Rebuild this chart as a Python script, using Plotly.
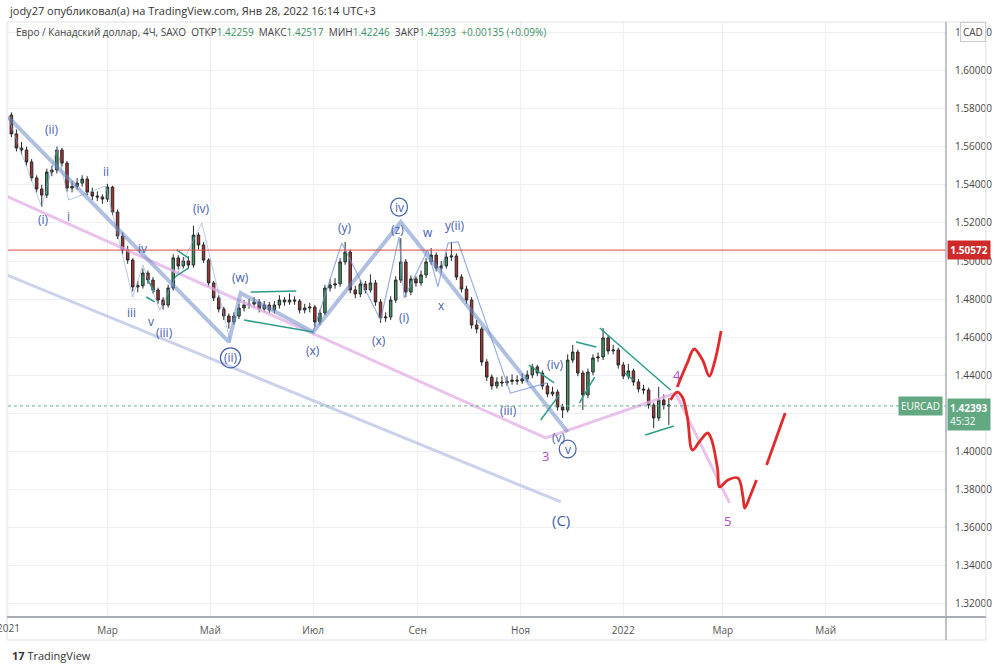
import pandas as pd
import plotly.graph_objects as go

# ---------------- data ----------------
start_date = "2020-12-31"   # candles every 3 calendar days
first_open = 1.5745
closes = [1.5766, 1.5667, 1.5593, 1.5583, 1.5520, 1.5436, 1.5378, 1.5346, 1.5467, 1.5478,
          1.5583, 1.5514, 1.5383, 1.5392, 1.5409, 1.5430, 1.5362, 1.5341, 1.5336, 1.5325,
          1.5388, 1.5257, 1.5131, 1.5058, 1.5005, 1.4864, 1.4870, 1.4937, 1.4900, 1.4848,
          1.4795, 1.4769, 1.4858, 1.5016, 1.4974, 1.5000, 1.4979, 1.5136, 1.5084, 1.5005,
          1.4885, 1.4806, 1.4748, 1.4711, 1.4680, 1.4711, 1.4753, 1.4769, 1.4774, 1.4785,
          1.4748, 1.4769, 1.4743, 1.4769, 1.4795, 1.4785, 1.4795, 1.4790, 1.4743, 1.4753,
          1.4758, 1.4680, 1.4727, 1.4858, 1.4874, 1.4880, 1.4995, 1.5047, 1.4848, 1.4827,
          1.4879, 1.4848, 1.4885, 1.4785, 1.4701, 1.4706, 1.4795, 1.4900, 1.4995, 1.4837,
          1.4906, 1.4885, 1.4927, 1.4995, 1.5031, 1.4963, 1.4974, 1.5021, 1.5026, 1.4916,
          1.4853, 1.4795, 1.4664, 1.4643, 1.4470, 1.4391, 1.4344, 1.4365, 1.4360, 1.4368,
          1.4375, 1.4370, 1.4381, 1.4402, 1.4444, 1.4412, 1.4344, 1.4302, 1.4312, 1.4234,
          1.4218, 1.4480, 1.4522, 1.4412, 1.4297, 1.4417, 1.4491, 1.4496, 1.4596, 1.4528,
          1.4533, 1.4454, 1.4396, 1.4423, 1.4365, 1.4328, 1.4323, 1.4244, 1.4176, 1.4270,
          1.4244, 1.4239]
highs = [1.5790, 1.5780, 1.5690, 1.5625, 1.5600, 1.5535, 1.5450, 1.5400, 1.5485, 1.5500,
         1.5600, 1.5595, 1.5525, 1.5420, 1.5435, 1.5450, 1.5445, 1.5385, 1.5365, 1.5350,
         1.5405, 1.5395, 1.5270, 1.5150, 1.5080, 1.5015, 1.4895, 1.4960, 1.4950, 1.4915,
         1.4860, 1.4810, 1.4875, 1.5035, 1.5030, 1.5020, 1.5025, 1.5185, 1.5150, 1.5100,
         1.5015, 1.4895, 1.4820, 1.4760, 1.4725, 1.4730, 1.4775, 1.4795, 1.4800, 1.4810,
         1.4800, 1.4790, 1.4785, 1.4790, 1.4820, 1.4810, 1.4830, 1.4815, 1.4800, 1.4775,
         1.4780, 1.4770, 1.4745, 1.4875, 1.4905, 1.4910, 1.5015, 1.5100, 1.5060, 1.4870,
         1.4900, 1.4895, 1.4930, 1.4900, 1.4800, 1.4730, 1.4815, 1.4920, 1.5120, 1.5010,
         1.4925, 1.4920, 1.4950, 1.5015, 1.5068, 1.5045, 1.5000, 1.5045, 1.5100, 1.5040,
         1.4930, 1.4870, 1.4810, 1.4690, 1.4655, 1.4485, 1.4405, 1.4390, 1.4395, 1.4395,
         1.4405, 1.4400, 1.4410, 1.4425, 1.4460, 1.4455, 1.4425, 1.4360, 1.4340, 1.4325,
         1.4250, 1.4510, 1.4560, 1.4535, 1.4425, 1.4435, 1.4510, 1.4520, 1.4648, 1.4610,
         1.4560, 1.4545, 1.4470, 1.4460, 1.4435, 1.4380, 1.4350, 1.4335, 1.4255, 1.4339,
         1.4300, 1.4280]
lows = [1.5730, 1.5650, 1.5575, 1.5560, 1.5500, 1.5420, 1.5360, 1.5283, 1.5330, 1.5445,
        1.5460, 1.5495, 1.5365, 1.5360, 1.5375, 1.5390, 1.5345, 1.5320, 1.5315, 1.5300,
        1.5310, 1.5240, 1.5115, 1.5035, 1.4985, 1.4840, 1.4835, 1.4855, 1.4880, 1.4830,
        1.4775, 1.4745, 1.4755, 1.4845, 1.4955, 1.4960, 1.4960, 1.4965, 1.5060, 1.4990,
        1.4865, 1.4790, 1.4730, 1.4690, 1.4645, 1.4665, 1.4695, 1.4735, 1.4750, 1.4755,
        1.4730, 1.4730, 1.4725, 1.4725, 1.4750, 1.4765, 1.4770, 1.4770, 1.4725, 1.4725,
        1.4730, 1.4655, 1.4665, 1.4715, 1.4840, 1.4855, 1.4865, 1.4980, 1.4830, 1.4805,
        1.4810, 1.4830, 1.4835, 1.4765, 1.4675, 1.4680, 1.4690, 1.4780, 1.4885, 1.4810,
        1.4820, 1.4865, 1.4870, 1.4910, 1.4980, 1.4945, 1.4940, 1.4960, 1.5000, 1.4900,
        1.4835, 1.4775, 1.4645, 1.4620, 1.4450, 1.4370, 1.4325, 1.4330, 1.4340, 1.4345,
        1.4350, 1.4350, 1.4355, 1.4365, 1.4385, 1.4395, 1.4325, 1.4285, 1.4290, 1.4215,
        1.4176, 1.4205, 1.4465, 1.4395, 1.4218, 1.4280, 1.4400, 1.4470, 1.4480, 1.4510,
        1.4510, 1.4435, 1.4380, 1.4380, 1.4345, 1.4310, 1.4300, 1.4225, 1.4123, 1.4160,
        1.4220, 1.4140]

# price axis ticks and time axis ticks (1.42000 is hidden behind the last-price badge)
price_ticks = [1.32, 1.34, 1.36, 1.38, 1.40, 1.42, 1.44, 1.46, 1.48, 1.50, 1.52, 1.54, 1.56, 1.58, 1.60, 1.62]
price_tick_labels = ["1.32000", "1.34000", "1.36000", "1.38000", "1.40000", "", "1.44000", "1.46000",
                     "1.48000", "1.50000", "1.52000", "1.54000", "1.56000", "1.58000", "1.60000", "1.62000"]
time_tick_dates = ["2021-03-01", "2021-05-01", "2021-07-01", "2021-09-01",
                   "2021-11-01", "2022-01-01", "2022-03-01", "2022-05-01"]
time_tick_labels = ["Мар", "Май", "Июл", "Сен", "Ноя", "2022", "Мар", "Май"]
first_tick_date = "2021-01-01"
first_tick_label = "2021"

resistance_level = 1.50572
last_price = 1.42393

# drawings (date, price)
thick_dates = ["2021-01-01", "2021-05-12", "2021-05-19", "2021-07-01", "2021-08-22", "2021-11-29"]
thick_prices = [1.5756, 1.4575, 1.4832, 1.4627, 1.5205, 1.4102]

pink_dates = ["2020-12-27", "2021-11-16", "2022-02-01", "2022-03-05"]
pink_prices = [1.5357, 1.4071, 1.4307, 1.3730]

lav_dates = ["2020-12-27", "2021-11-25"]
lav_prices = [1.4942, 1.3735]

thinA_dates = ["2021-01-01", "2021-01-21", "2021-01-30", "2021-02-06", "2021-02-28", "2021-03-16",
               "2021-03-22", "2021-04-01", "2021-04-26", "2021-05-13"]
thinA_prices = [1.5756, 1.5283, 1.5593, 1.5320, 1.5394, 1.4811, 1.4979, 1.4743, 1.5199, 1.4570]
thinB_dates = ["2021-07-01", "2021-07-18", "2021-08-10", "2021-08-21", "2021-08-24", "2021-09-07",
               "2021-09-13", "2021-09-19", "2021-09-25", "2021-10-26", "2021-11-17"]
thinB_prices = [1.4627, 1.5094, 1.4690, 1.5126, 1.4806, 1.5058, 1.4864, 1.5094, 1.5100, 1.4307, 1.4360]

teal_segments = [
    (("2021-03-25", "2021-03-29"), (1.4900, 1.4837)),
    (("2021-03-24", "2021-03-29"), (1.4811, 1.4785)),
    (("2021-04-11", "2021-04-18"), (1.5058, 1.5016)),
    (("2021-04-10", "2021-04-18"), (1.4916, 1.4963)),
    (("2021-05-25", "2021-06-21"), (1.4837, 1.4843)),
    (("2021-05-21", "2021-07-01"), (1.4690, 1.4627)),
    (("2021-11-06", "2021-11-21"), (1.4454, 1.4360)),
    (("2021-11-13", "2021-11-24"), (1.4165, 1.4297)),
    (("2021-12-04", "2021-12-16"), (1.4575, 1.4549)),
    (("2021-12-06", "2021-12-15"), (1.4255, 1.4391)),
    (("2021-12-18", "2022-01-29"), (1.4648, 1.4323)),
    (("2022-01-14", "2022-01-31"), (1.4087, 1.4134)),
    (("2022-01-02", "2022-01-07"), (1.4412, 1.4375)),
]

red_up_dates = ["2022-02-02", "2022-02-08", "2022-02-12", "2022-02-17", "2022-02-21", "2022-02-24", "2022-02-28"]
red_up_prices = [1.4339, 1.4465, 1.4538, 1.4480, 1.4396, 1.4465, 1.4633]
red_dn_dates = ["2022-01-29", "2022-02-02", "2022-02-05", "2022-02-08", "2022-02-11", "2022-02-15",
                "2022-02-20", "2022-02-22", "2022-02-26", "2022-02-27", "2022-03-04", "2022-03-10",
                "2022-03-13", "2022-03-14", "2022-03-17", "2022-03-21"]
red_dn_prices = [1.4270, 1.4312, 1.4286, 1.4181, 1.4008, 1.4050, 1.4097, 1.4071, 1.3903, 1.3814,
                 1.3850, 1.3861, 1.3761, 1.3703, 1.3761, 1.3850]
red_rise_dates = ["2022-03-27", "2022-04-07"]
red_rise_prices = [1.3929, 1.4202]

wave_labels = [
    ("(i)", "2021-01-22", 1.5220), ("(ii)", "2021-01-27", 1.5688), ("i", "2021-02-06", 1.5231),
    ("ii", "2021-02-28", 1.5472), ("iv", "2021-03-22", 1.5068), ("iii", "2021-03-15", 1.4732),
    ("v", "2021-03-27", 1.4680), ("(iii)", "2021-04-04", 1.4627), ("(iv)", "2021-04-26", 1.5278),
    ("(w)", "2021-05-19", 1.4916), ("(ii)", "2021-05-13", 1.4491), ("(x)", "2021-07-01", 1.4528),
    ("(y)", "2021-07-20", 1.5178), ("(x)", "2021-08-09", 1.4585), ("iv", "2021-08-21", 1.5283),
    ("(z)", "2021-08-20", 1.5163), ("(i)", "2021-08-24", 1.4701), ("w", "2021-09-07", 1.5152),
    ("x", "2021-09-15", 1.4764), ("y(ii)", "2021-09-23", 1.5184), ("(iii)", "2021-10-25", 1.4213),
    ("(iv)", "2021-11-22", 1.4459), ("(v)", "2021-11-24", 1.4071), ("v", "2021-11-29", 1.4013),
]
purple_labels = [("3", "2021-11-16", 1.3976), ("4", "2022-02-02", 1.4402), ("5", "2022-03-04", 1.3635)]
big_label = ("(C)", "2021-11-25", 1.3640)
circles = [  # x0, x1, y0, y1
    ("2021-08-16", "2021-08-26", 1.5236, 1.5330),
    ("2021-11-24", "2021-12-04", 1.3966, 1.4060),
    ("2021-05-07", "2021-05-19", 1.4439, 1.4544),
]

# ---------------- figure ----------------
dates = pd.date_range(start_date, periods=len(closes), freq="3D")
opens = [first_open] + closes[:-1]

BLUE = "#4561ac"
PURPLE = "#b04cc8"
FONT = "Open Sans"

fig = go.Figure()

fig.add_trace(go.Scatter(x=lav_dates, y=lav_prices, mode="lines",
                         line=dict(color="rgba(175,185,225,0.65)", width=3), hoverinfo="skip"))
fig.add_trace(go.Scatter(x=pink_dates, y=pink_prices, mode="lines",
                         line=dict(color="rgba(225,175,228,0.75)", width=3), hoverinfo="skip"))

fig.add_trace(go.Candlestick(
    x=dates, open=opens, high=highs, low=lows, close=closes,
    increasing=dict(line=dict(color="#2a2a2a", width=1), fillcolor="#3d9a62"),
    decreasing=dict(line=dict(color="#2a2a2a", width=1), fillcolor="#a8322f"),
    whiskerwidth=0, hoverinfo="skip"))

fig.add_trace(go.Scatter(x=thinA_dates, y=thinA_prices, mode="lines",
                         line=dict(color="rgba(140,165,220,0.6)", width=1), hoverinfo="skip"))
fig.add_trace(go.Scatter(x=thinB_dates, y=thinB_prices, mode="lines",
                         line=dict(color="rgba(120,150,215,0.75)", width=1.2), hoverinfo="skip"))
fig.add_trace(go.Scatter(x=thick_dates, y=thick_prices, mode="lines",
                         line=dict(color="rgba(110,140,200,0.55)", width=4), hoverinfo="skip"))

for (xd, yp) in teal_segments:
    fig.add_trace(go.Scatter(x=list(xd), y=list(yp), mode="lines",
                             line=dict(color="#2a9d8a", width=1.5), hoverinfo="skip"))

for xd, yp in [(red_up_dates, red_up_prices), (red_dn_dates, red_dn_prices), (red_rise_dates, red_rise_prices)]:
    fig.add_trace(go.Scatter(x=xd, y=yp, mode="lines", line_shape="spline",
                             line=dict(color="#e02b2b", width=2.8), hoverinfo="skip"))

shapes = []
shapes.append(dict(type="line", xref="paper", x0=0, x1=1, yref="y", y0=resistance_level, y1=resistance_level,
                   line=dict(color="#e04545", width=1)))
shapes.append(dict(type="line", xref="paper", x0=0, x1=1, yref="y", y0=last_price, y1=last_price,
                   line=dict(color="#6aae8a", width=1, dash="dot")))
for x0, x1, y0, y1 in circles:
    shapes.append(dict(type="circle", xref="x", yref="y", x0=x0, x1=x1, y0=y0, y1=y1,
                       line=dict(color=BLUE, width=1.2)))
# vertical gridline at the first (clipped) time tick
shapes.append(dict(type="line", xref="x", yref="paper", x0=first_tick_date, x1=first_tick_date, y0=0, y1=1,
                   line=dict(color="#eef0f5", width=1), layer="below"))
# frame
shapes.append(dict(type="rect", xref="paper", yref="paper", x0=-0.001, x1=1.0425, y0=-0.0387, y1=1.0,
                   line=dict(color="#dfe2ea", width=1)))
shapes.append(dict(type="line", xref="paper", yref="paper", x0=-0.001, x1=1.0425, y0=0, y1=0,
                   line=dict(color="#a9acb4", width=2)))
shapes.append(dict(type="line", xref="paper", yref="paper", x0=1.0, x1=1.0, y0=-0.0387, y1=1.0,
                   line=dict(color="#a9acb4", width=1.5)))

ann = []
for t, xd, yp in wave_labels:
    ann.append(dict(x=xd, y=yp, xref="x", yref="y", text=t, showarrow=False,
                    font=dict(family=FONT, size=12, color=BLUE)))
for t, xd, yp in purple_labels:
    ann.append(dict(x=xd, y=yp, xref="x", yref="y", text=t, showarrow=False,
                    font=dict(family=FONT, size=13, color=PURPLE)))
ann.append(dict(x=big_label[1], y=big_label[2], xref="x", yref="y", text=big_label[0], showarrow=False,
                font=dict(family=FONT, size=15, color=BLUE)))

# first time label, partly cut by the page edge as in the reference
ann.append(dict(x=first_tick_date, xref="x", yref="paper", y=-0.019, xanchor="center", yanchor="middle",
                text=first_tick_label, showarrow=False, font=dict(family=FONT, size=10, color="#555555")))

# header texts
ann.append(dict(xref="paper", yref="paper", x=-0.001, y=1.0185, xanchor="left", yanchor="middle",
                text="jody27 опубликовал(а) на TradingView.com, Янв 28, 2022 16:14 UTC+3",
                showarrow=False, font=dict(family=FONT, size=11, color="#333333")))
G = "#3b8f5f"
ann.append(dict(xref="paper", yref="paper", x=0.006, y=0.983, xanchor="left", yanchor="middle",
                text=("Евро / Канадский доллар, 4Ч, SAXO  ОТКР<span style='color:%s'>1.42259</span>  "
                      "МАКС<span style='color:%s'>1.42517</span>  МИН<span style='color:%s'>1.42246</span>  "
                      "ЗАКР<span style='color:%s'>1.42393</span>  <span style='color:%s'>+0.00135 (+0.09%%)</span>")
                     % (G, G, G, G, G),
                showarrow=False, font=dict(family=FONT, size=10, color="#444444")))
# axis badges
ann.append(dict(xref="paper", yref="y", x=1.0, y=1.62, xanchor="left", yanchor="middle", xshift=14,
                text="CAD", showarrow=False, bgcolor="white", bordercolor="#c8cbd3", borderwidth=1,
                borderpad=2, font=dict(family=FONT, size=10, color="#444444")))
ann.append(dict(xref="paper", yref="y", x=1.0, y=resistance_level, xanchor="left", yanchor="middle", xshift=1,
                text="<b>1.50572</b>", showarrow=False, bgcolor="#cf2a2a", borderpad=2, width=38,
                font=dict(family=FONT, size=10, color="white")))
ann.append(dict(xref="paper", yref="y", x=1.0, y=last_price, xanchor="left", yanchor="top", xshift=1, yshift=8,
                text="<b>1.42393</b><br>45:32", showarrow=False, bgcolor="#62a881", borderpad=2, align="left",
                width=38, font=dict(family=FONT, size=10, color="white")))
ann.append(dict(xref="paper", yref="y", x=0.997, y=last_price, xanchor="right", yanchor="middle",
                text="EURCAD", showarrow=False, bgcolor="#62a881", borderpad=2,
                font=dict(family=FONT, size=10, color="white")))
ann.append(dict(xref="paper", yref="paper", x=0.002, y=-0.064, xanchor="left", yanchor="middle",
                text="<b>17</b> TradingView", showarrow=False,
                font=dict(family=FONT, size=11, color="#333333")))

fig.update_layout(
    width=1000, height=667,
    margin=dict(l=8, r=50, t=22, b=50),
    paper_bgcolor="white", plot_bgcolor="white",
    showlegend=False, shapes=shapes, annotations=ann,
    font=dict(family=FONT, size=10, color="#444444"),
    xaxis=dict(type="date", range=["2021-01-01", "2022-07-11 10:00"],
               tickvals=time_tick_dates, ticktext=time_tick_labels,
               showgrid=True, gridcolor="#eef0f5", zeroline=False, showline=False,
               ticks="outside", ticklen=4, tickcolor="rgba(0,0,0,0)",
               rangeslider=dict(visible=False), tickfont=dict(size=10, color="#555555")),
    yaxis=dict(side="right", range=[1.31312, 1.62546], tickvals=price_ticks,
               ticktext=price_tick_labels,
               showgrid=True, gridcolor="#eef0f5", zeroline=False, showline=False,
               ticks="outside", ticklen=6, tickcolor="rgba(0,0,0,0)",
               tickfont=dict(size=10, color="#444444")),
)

fig.write_html("out.html", config={"displayModeBar": False})
